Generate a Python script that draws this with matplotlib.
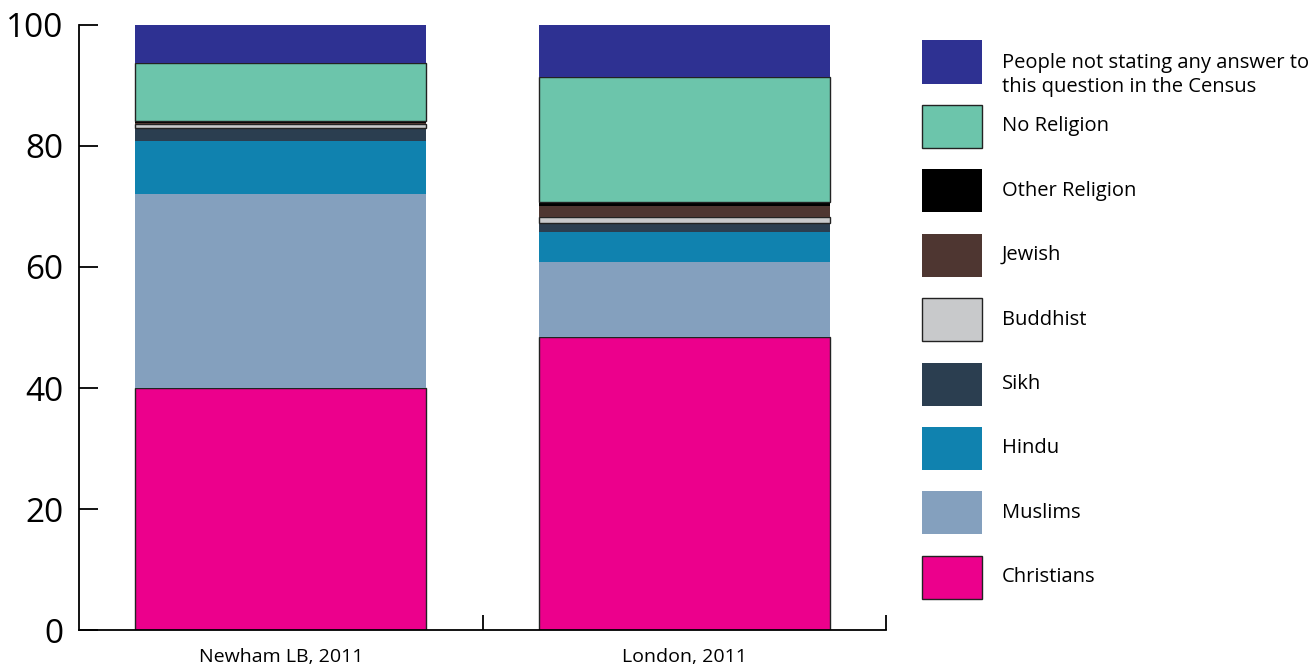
import numpy as np
import matplotlib.pyplot as plt
from matplotlib.patches import Rectangle

plt.rcParams["font.family"] = ["Open Sans", "DejaVu Sans"]

areas = ["Newham LB, 2011", "London, 2011"]
religions = ["Christians", "Muslims", "Hindu", "Sikh", "Buddhist", "Jewish",
             "Other Religion", "No Religion",
             "People not stating any answer to\nthis question in the Census"]
christians = [40.0, 48.4]
muslims = [32.0, 12.4]
hindu = [8.8, 5.0]
sikh = [2.1, 1.5]
buddhist = [0.8, 1.0]
jewish = [0.1, 1.8]
other = [0.4, 0.6]
no_religion = [9.5, 20.7]
not_stated = [6.4, 8.6]

series = [christians, muslims, hindu, sikh, buddhist, jewish, other, no_religion, not_stated]
colors = ["#EC008C", "#84A0BE", "#1082AF", "#2B3E50", "#C8C9CB", "#4E3631",
          "#000000", "#6CC5AB", "#2E3192"]
edged = [True, False, False, False, True, False, False, True, False]

fig = plt.figure(figsize=(13.14, 6.66), dpi=100)
ax = fig.add_axes([0.0601, 0.054, 0.6142, 0.9085])

x = np.arange(len(areas))
bottom = np.zeros(len(areas))
for vals, col, e in zip(series, colors, edged):
    ax.bar(x, vals, width=0.72, bottom=bottom, color=col,
           edgecolor="#222222" if e else col, linewidth=1.0 if e else 0)
    bottom += np.array(vals)

ax.set_xlim(-0.5, 1.5)
ax.set_ylim(0, 100)
ax.set_yticks([0, 20, 40, 60, 80, 100])
ax.tick_params(axis="y", direction="in", length=14, width=1.3, pad=11,
               labelsize=24)
ax.set_xticks([0.5, 1.5])
ax.set_xticklabels([])
ax.tick_params(axis="x", which="major", direction="in", length=11, width=1.3)
ax.set_xticks(x, minor=True)
ax.set_xticklabels(areas, minor=True)
ax.tick_params(axis="x", which="minor", length=0, pad=13, labelsize=14)
for s in ["top", "right"]:
    ax.spines[s].set_visible(False)
for s in ["left", "bottom"]:
    ax.spines[s].set_linewidth(1.3)

# legend, drawn by hand to match the layout
W, H = 1314, 666
for i, (lab, col, e) in enumerate(zip(religions[::-1], colors[::-1], edged[::-1])):
    yc = 62 + i * 64.4
    fig.add_artist(Rectangle((922 / W, 1 - (yc + 21.5) / H), 60 / W, 43 / H,
                             transform=fig.transFigure, facecolor=col,
                             edgecolor="#222222" if e else col,
                             linewidth=1.0 if e else 0))
    ty = yc + 13 if "\n" in lab else yc
    fig.text(1002 / W, 1 - ty / H, lab, fontsize=14.5, va="center", ha="left",
             linespacing=1.25)

fig.savefig("out.png", dpi=100)
